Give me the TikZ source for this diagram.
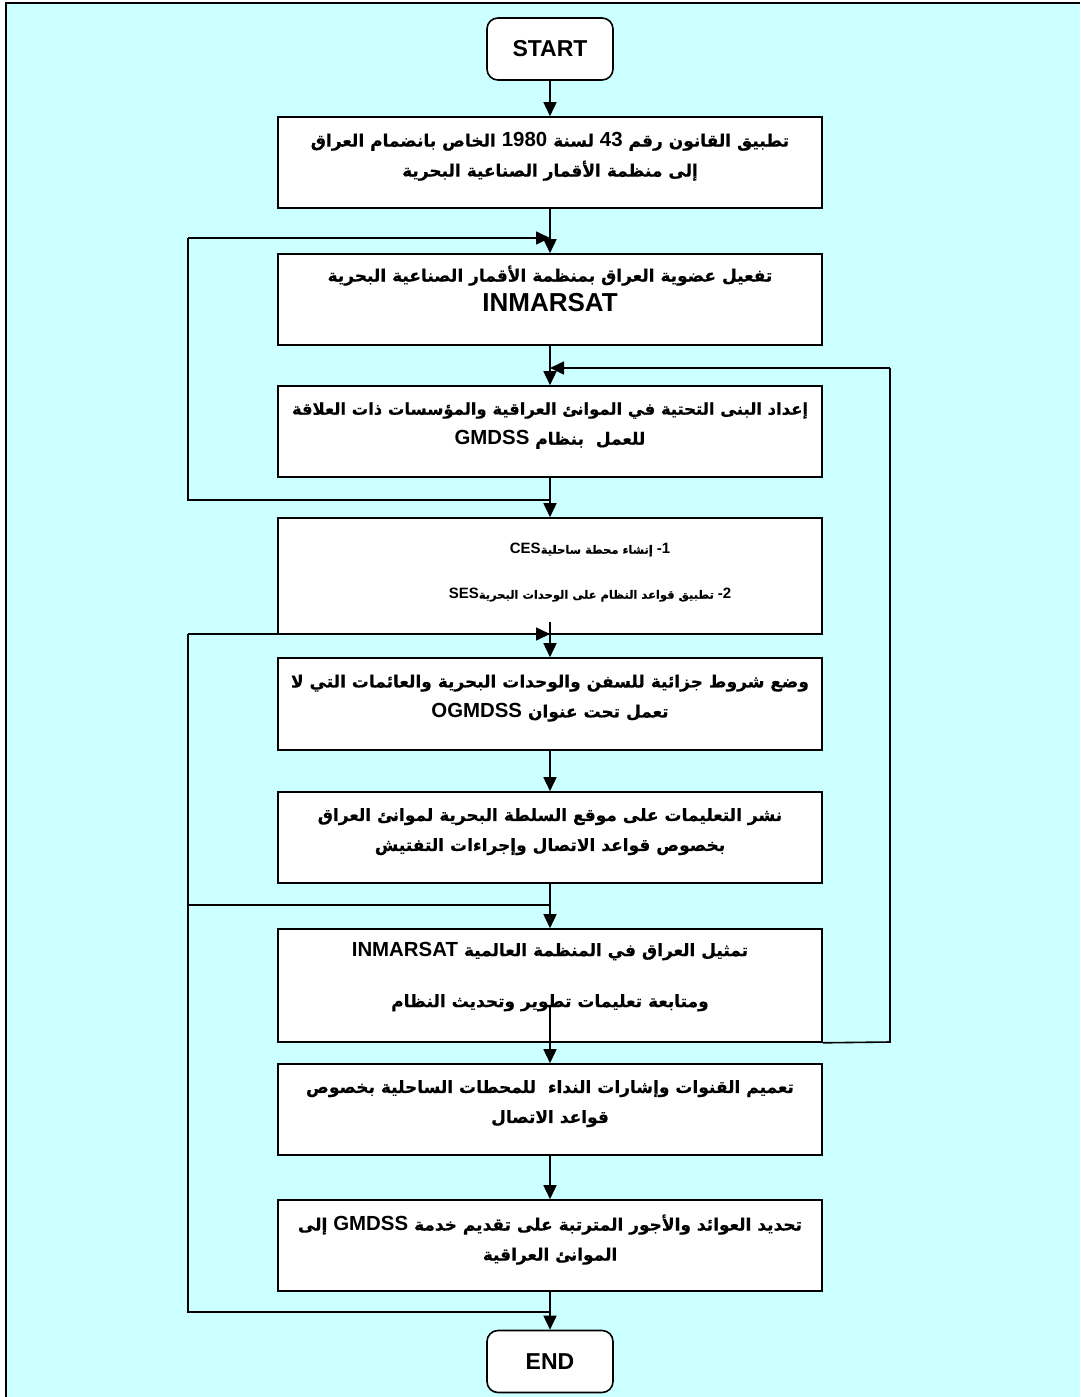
\documentclass[tikz,border=0pt]{standalone}
\usepackage{fontspec}
\setmainfont{Liberation Sans}
\newfontfamily\arabicfont[Script=Arabic, BoldFeatures={FakeBold=0.4}]{DejaVu Sans}
\newfontfamily\latinfont{Liberation Sans}
\newfontfamily\latinin[Scale=1.2]{Liberation Sans}
\TeXXeTstate=1
\usetikzlibrary{arrows.meta}
\definecolor{bgcyan}{HTML}{CCFFFF}
\newcommand{\myR}[1]{\beginR #1\endR}
\newcommand{\myL}[1]{\beginL{\latinin #1}\endL{}}
\newcommand{\mySL}[1]{\beginL{\latinfont\fontsize{15}{20}\selectfont #1}\endL{}}
\newcommand{\dn}{\rule[-16pt]{0pt}{0pt}}
\newcommand{\arfont}{\arabicfont\bfseries\fontsize{17}{30}\selectfont}
\newcommand{\arsmall}{\arabicfont\bfseries\fontsize{11.5}{45}\selectfont}
\begin{document}
\begin{tikzpicture}[x=1pt,y=-1pt,
  proc/.style={draw, line width=1.6pt, fill=white, minimum width=544pt, inner sep=0pt, align=center, font=\arfont},
  term/.style={draw, line width=1.6pt, fill=white, rounded corners=11pt, minimum width=126pt, minimum height=62pt, inner sep=0pt, font=\latinfont\bfseries\fontsize{23}{25}\selectfont},
  conn/.style={line width=1.6pt},
  arr/.style={conn, -{Triangle[width=13pt,length=14pt]}}
]
\useasboundingbox (0,0) rectangle (1080,1397);
\fill[bgcyan] (6,3) rectangle (1080,1397);
\draw[line width=2pt] (6,1397) -- (6,3) -- (1080,3);

\node[term] (start) at (550,49) {START};
\node[proc, minimum height=91pt] (b1) at (550,162.5)
  {\myR{تطبيق القانون رقم \myL{43} لسنة \myL{1980} الخاص بانضمام العراق}\\ \myR{إلى منظمة الأقمار الصناعية البحرية}\dn};
\node[proc, minimum height=91pt] (b2) at (550,299.5)
  {\myR{تفعيل عضوية العراق بمنظمة الأقمار الصناعية البحرية}\\ {\latinfont\bfseries\fontsize{26}{32}\selectfont INMARSAT}\rule[-22pt]{0pt}{0pt}};
\node[proc, minimum height=91pt] (b3) at (550,431.5)
  {{\fontsize{16.4}{30}\selectfont\myR{إعداد البنى التحتية في الموانئ العراقية والمؤسسات ذات العلاقة}}\\ \myR{للعمل\ \ بنظام \myL{GMDSS}}\dn};
\node[proc, minimum height=116pt, font=\arsmall] (b4) at (550,576)
  {\hspace*{80pt}\myR{\mySL{1}\mySL{-} إنشاء محطة ساحلية\mySL{CES}}\\ \hspace*{80pt}\myR{\mySL{2}\mySL{-} تطبيق قواعد النظام على الوحدات البحرية\mySL{SES}}\rule[-10pt]{0pt}{0pt}};
\node[proc, minimum height=92pt] (b5) at (550,704)
  {\myR{وضع شروط جزائية للسفن والوحدات البحرية والعائمات التي لا}\\ \myR{تعمل تحت عنوان \myL{OGMDSS}}\dn};
\node[proc, minimum height=91pt] (b6) at (550,837.5)
  {\myR{نشر التعليمات على موقع السلطة البحرية لموانئ العراق}\\ \myR{بخصوص قواعد الاتصال وإجراءات التفتيش}\dn};
\node[proc, minimum height=113pt] (b7) at (550,985.5)
  {\myR{تمثيل العراق في المنظمة العالمية \myL{INMARSAT}}\\[21pt] \myR{ومتابعة تعليمات تطوير وتحديث النظام}\rule[-22pt]{0pt}{0pt}};
\node[proc, minimum height=91pt] (b8) at (550,1109.5)
  {\myR{تعميم القنوات وإشارات النداء\ \ للمحطات الساحلية بخصوص}\\ \myR{قواعد الاتصال}\dn};
\node[proc, minimum height=91pt] (b9) at (550,1245.5)
  {\myR{تحديد العوائد والأجور المترتبة على تقديم خدمة \myL{GMDSS} إلى}\\ \myR{الموانئ العراقية}\dn};
\node[term] (endn) at (550,1361.5) {END};

% junction coordinates
\coordinate (l1) at (188,500);
\coordinate (l2) at (188,238);
\coordinate (l3) at (188,634);
\coordinate (l4) at (188,1312);
\coordinate (l5) at (188,905);
\coordinate (r1) at (890,1042);
\coordinate (r2) at (890,368);

% main flow
\draw[arr] (start) -- (b1);
\draw[arr] (b1) -- (b2);
\draw[arr] (b2) -- (b3);
\draw[arr] (b3) -- (b4);
\draw[arr] ([yshift=13pt]b4.south) -- (b5);
\draw[arr] (b5) -- (b6);
\draw[arr] (b6) -- (b7);
\draw[arr] ([yshift=37pt]b7.south) -- (b8);
\draw[arr] (b8) -- (b9);
\draw[arr] (b9) -- (endn);

% upper left loop
\draw[conn] (b3.south |- l1) -- (l1) -- (l2);
\draw[arr] (l2) -- (l2 -| b1.south);
% lower left loop
\draw[conn] (b9.south |- l4) -- (l4) -- (l3);
\draw[arr] (l3) -- (l3 -| b4.south);
\draw[conn] (b6.south |- l5) -- (l5);
% right loop
\draw[conn] (b7.south east) -- (r1) -- (r2);
\draw[arr] (r2) -- (r2 -| b2.south);
\end{tikzpicture}
\end{document}
